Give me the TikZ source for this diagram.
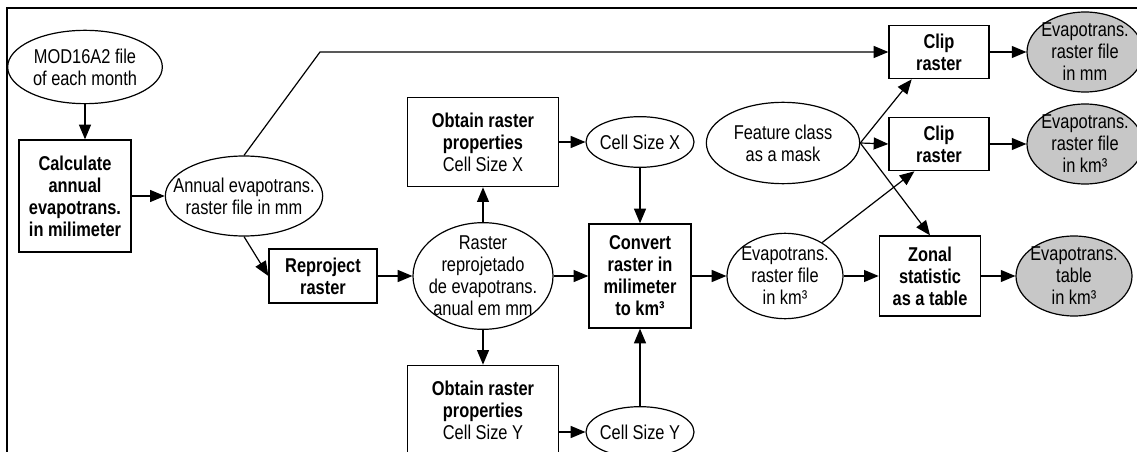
\documentclass[tikz,border=0pt]{standalone}
\usepackage{fontspec}
\setmainfont[FakeStretch=0.82]{Liberation Sans}
\usetikzlibrary{shapes.geometric,arrows.meta}
\tikzset{
  box/.style={draw, line width=1pt, align=center, inner sep=0pt, execute at begin node=\bfseries},
  oval/.style={draw, ellipse, line width=0.9pt, inner sep=0pt},
  result/.style={oval, fill=black!22},
  flow/.style={-{Triangle[length=11pt,width=9pt]}, line width=0.9pt}
}

\begin{document}
\begin{tikzpicture}[x=0.75pt,y=-0.75pt,font=\fontsize{15}{16.5}\selectfont]
\useasboundingbox (0,0) rectangle (1137,452);
\draw[line width=2pt] (7,452) -- (7,8) -- (1137,8); % frame, only top and left edge show

% input and first steps
\node[oval, minimum width=116pt, minimum height=55pt, label={[align=center]center:MOD16A2 file\\of each month}] (mod) at (85,67) {};
\node[box, minimum width=84pt, minimum height=84pt] (calc) at (75,196) {Calculate\\annual\\evapotrans.\\in milimeter};
\node[oval, minimum width=118pt, minimum height=60pt, label={[align=center]center:Annual evapotrans.\\raster file in mm}] (annual) at (244,196) {};
\node[box, minimum width=81pt, minimum height=40.5pt] (repro) at (323,276) {Reproject\\raster};
\node[oval, minimum width=105pt, minimum height=80pt, label={[align=center]center:Raster\\reprojetado\\de evapotrans.\\anual em mm}] (raster) at (483,276) {};

% cell sizes
\node[box, minimum width=113pt, minimum height=67pt] (obtx) at (483,142) {Obtain raster\\properties\\\textmd{Cell Size X}};
\node[box, minimum width=113pt, minimum height=67pt] (obty) at (483,410) {Obtain raster\\properties\\\textmd{Cell Size Y}};
\node[oval, minimum width=81pt, minimum height=38pt, label={center:Cell Size X}] (cellx) at (640,142) {};
\node[oval, minimum width=81pt, minimum height=38pt, label={center:Cell Size Y}] (celly) at (640,432) {};
\node[box, minimum width=76.5pt, minimum height=78pt] (conv) at (640,276) {Convert\\raster in\\milimeter\\to km³};
\node[oval, minimum width=87pt, minimum height=64pt, label={[align=center]center:Evapotrans.\\raster file\\in km³}] (evkm) at (785,276) {};

% mask, clips and outputs
\node[oval, minimum width=115pt, minimum height=61pt, label={[align=center]center:Feature class\\as a mask}] (feat) at (783,143) {};
\node[box, minimum width=75pt, minimum height=40pt] (clip1) at (939,52) {Clip\\raster};
\node[box, minimum width=75pt, minimum height=40pt] (clip2) at (939,144) {Clip\\raster};
\node[box, minimum width=76pt, minimum height=60pt] (zonal) at (930,276) {Zonal\\statistic\\as a table};
\node[result, minimum width=87pt, minimum height=60pt, label={[align=center]center:Evapotrans.\\raster file\\in mm}] (res1) at (1085,52) {};
\node[result, minimum width=87pt, minimum height=60pt, label={[align=center]center:Evapotrans.\\raster file\\in km³}] (res2) at (1085,144) {};
\node[result, minimum width=87pt, minimum height=60pt, label={[align=center]center:Evapotrans.\\table\\in km³}] (res3) at (1074,276) {};

\coordinate (bend) at (320,52);

% connectors
\draw[flow] (mod.south) -- (mod.south |- calc.north);
\draw[flow] (calc) -- (annual);
\draw[flow] (annual.south) -- (repro.west);
\draw[flow] (annual.north) -- (bend) -- (clip1.west); % goes round the top
\draw[flow] (repro) -- (raster);
\draw[flow] (raster) -- (obtx);
\draw[flow] (raster) -- (obty);
\draw[flow] (raster) -- (conv);
\draw[flow] (obtx) -- (cellx);
\draw[flow] (obty.east |- celly) -- (celly);
\draw[flow] (cellx) -- (conv);
\draw[flow] (celly) -- (conv);
\draw[flow] (conv) -- (evkm);
\draw[flow] (evkm.42) -- (clip2.228);
\draw[flow] (feat.east) -- (clip1.225);
\draw[flow] (feat.east) -- (clip2.west);
\draw[flow] (feat.east) -- (zonal.north);
\draw[flow] (evkm) -- (zonal);
\draw[flow] (zonal) -- (res3);
\draw[flow] (clip1) -- (res1);
\draw[flow] (clip2) -- (res2);
\end{tikzpicture}
\end{document}
